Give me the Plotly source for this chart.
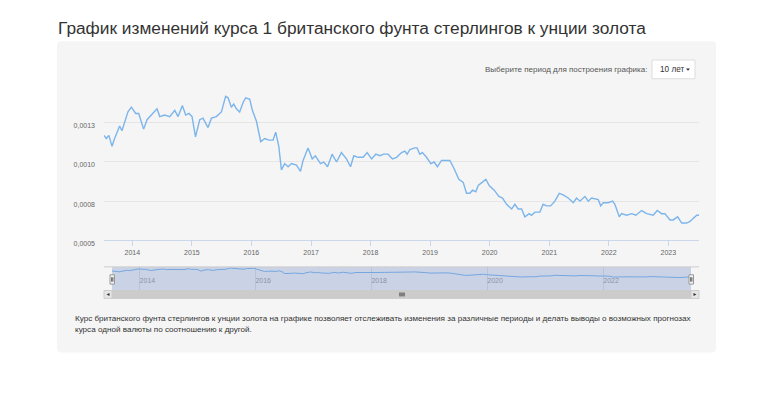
import plotly.graph_objects as go

# ---------------- data ----------------
dates = [
    "2013-07-11", "2013-07-25", "2013-08-10", "2013-08-29", "2013-09-14", "2013-10-15", "2013-10-29",
    "2013-11-25", "2013-12-05", "2013-12-26",
    "2014-01-21", "2014-02-09", "2014-03-11", "2014-04-01", "2014-04-28", "2014-06-01", "2014-06-18",
    "2014-07-18", "2014-08-18", "2014-09-18", "2014-10-08", "2014-11-04", "2014-11-24", "2014-12-14",
    "2015-01-02", "2015-01-23", "2015-02-18", "2015-03-10", "2015-04-10", "2015-05-01", "2015-05-31",
    "2015-07-01", "2015-07-27", "2015-08-11", "2015-08-31", "2015-09-15", "2015-10-01", "2015-10-21",
    "2015-11-11", "2015-11-27", "2015-12-22",
    "2016-01-07", "2016-02-01", "2016-02-27", "2016-03-23", "2016-04-18", "2016-05-13", "2016-05-29",
    "2016-06-17", "2016-07-03", "2016-07-23", "2016-08-13", "2016-09-03", "2016-10-03", "2016-10-28",
    "2016-11-13", "2016-12-13",
    "2017-01-08", "2017-01-27", "2017-02-28", "2017-03-20", "2017-04-12", "2017-05-10", "2017-06-06",
    "2017-07-06", "2017-08-06", "2017-08-31", "2017-09-20", "2017-10-16", "2017-11-16", "2017-12-11",
    "2018-01-07", "2018-02-02", "2018-02-26", "2018-03-23", "2018-04-18", "2018-05-15", "2018-06-09",
    "2018-07-10", "2018-07-30", "2018-08-13", "2018-08-30", "2018-09-29", "2018-10-13", "2018-10-30",
    "2018-11-15", "2018-12-10",
    "2019-01-05", "2019-01-26", "2019-02-15", "2019-03-12", "2019-04-01", "2019-05-02", "2019-05-27",
    "2019-06-26", "2019-07-23", "2019-08-12", "2019-09-02", "2019-09-18", "2019-10-08", "2019-10-23",
    "2019-11-16", "2019-12-09", "2019-12-29",
    "2020-01-29", "2020-02-27", "2020-03-20", "2020-04-14", "2020-05-15", "2020-06-04", "2020-06-24",
    "2020-07-15", "2020-08-04", "2020-08-31", "2020-09-14", "2020-10-05", "2020-11-04", "2020-11-24",
    "2020-12-15",
    "2021-01-09", "2021-02-04", "2021-03-03", "2021-03-27", "2021-04-27", "2021-05-28", "2021-06-17",
    "2021-07-08", "2021-08-07", "2021-08-28", "2021-09-17", "2021-10-28", "2021-11-12", "2021-11-28",
    "2021-12-28",
    "2022-01-24", "2022-02-07", "2022-03-06", "2022-03-20", "2022-04-20", "2022-05-21", "2022-06-16",
    "2022-07-21", "2022-08-21", "2022-09-30", "2022-10-25", "2022-11-21", "2022-12-11",
    "2023-01-11", "2023-01-31", "2023-02-27", "2023-03-24", "2023-04-23", "2023-05-14", "2023-06-03",
    "2023-06-24", "2023-07-08",
]

gbp_per_oz = [
    0.00117, 0.00115, 0.00117, 0.00110, 0.00115, 0.00123, 0.00120, 0.00128, 0.00132, 0.00135,
    0.00131, 0.00131, 0.00121, 0.00127, 0.00130, 0.00134, 0.00129, 0.00130, 0.00129, 0.00133,
    0.00129, 0.00136, 0.00130, 0.00131,
    0.00129, 0.00116, 0.00127, 0.00128, 0.00122, 0.00128, 0.00129, 0.00132, 0.00142, 0.00141,
    0.00135, 0.00137, 0.00134, 0.00132, 0.00138, 0.00141, 0.00140,
    0.00133, 0.00126, 0.00113, 0.00115, 0.00114, 0.00114, 0.00119, 0.00110, 0.00095, 0.00099,
    0.00097, 0.00099, 0.00098, 0.00094, 0.00101, 0.00109,
    0.00102, 0.00104, 0.00099, 0.00100, 0.00097, 0.00105, 0.00100, 0.00106, 0.00102, 0.00097,
    0.00104, 0.00103, 0.00103, 0.00106,
    0.00102, 0.00105, 0.00104, 0.00105, 0.00105, 0.00102, 0.00103, 0.00106, 0.00107, 0.00105,
    0.00108, 0.00109, 0.00109, 0.00105, 0.00106, 0.00103,
    0.00099, 0.00100, 0.00097, 0.00101, 0.00101, 0.00101, 0.00096, 0.00089, 0.00087, 0.00080,
    0.00080, 0.00082, 0.00081, 0.00085, 0.00087, 0.00089, 0.00085,
    0.00082, 0.00078, 0.00077, 0.00073, 0.00070, 0.00073, 0.00070, 0.00070, 0.00065, 0.00067,
    0.00066, 0.00068, 0.00068, 0.00073, 0.00072,
    0.00072, 0.00075, 0.00080, 0.00079, 0.00077, 0.00074, 0.00077, 0.00075, 0.00078, 0.00075,
    0.00077, 0.00076, 0.00072, 0.00074, 0.00074,
    0.00075, 0.00073, 0.00065, 0.00067, 0.00066, 0.00067, 0.00066, 0.00069, 0.00067, 0.00066,
    0.00069, 0.00067, 0.00067,
    0.00063, 0.00063, 0.00065, 0.00061, 0.00061, 0.00062, 0.00064, 0.00066, 0.00066,
]

y_tick_values = [0.0005, 0.00075, 0.0010, 0.00125, 0.0015]
y_tick_labels = ["0,0005", "0,0008", "0,0010", "0,0013", ""]

title_text = "График изменений курса 1 британского фунта стерлингов к унции золота"
period_label = "Выберите период для построения графика:"
period_value = "10 лет"
note_lines = [
    "Курс британского фунта стерлингов к унции золота на графике позволяет отслеживать изменения "
    "за различные периоды и делать выводы о возможных прогнозах",
    "курса одной валюты по соотношению к другой.",
]

# ---------------- layout helpers ----------------
W, H = 758, 395
FONT = "Liberation Sans, Arial, sans-serif"


def px(x):
    return x / W


def py(y):
    return 1 - y / H


def rect(x0, y0, x1, y1, fill, line_color=None, line_width=0, layer="below"):
    return dict(type="rect", xref="paper", yref="paper",
                x0=px(x0), x1=px(x1), y0=py(y1), y1=py(y0),
                fillcolor=fill, layer=layer,
                line=dict(color=line_color or fill, width=line_width))


def seg(x0, y0, x1, y1, color, width=1, layer="above"):
    return dict(type="line", xref="paper", yref="paper",
                x0=px(x0), x1=px(x1), y0=py(y0), y1=py(y1), layer=layer,
                line=dict(color=color, width=width))


def rounded_rect_path(x0, y0, x1, y1, r):
    rx, ry = r / W, r / H
    X0, X1, Y0, Y1 = px(x0), px(x1), py(y1), py(y0)
    return (f"M {X0+rx},{Y0} L {X1-rx},{Y0} Q {X1},{Y0} {X1},{Y0+ry} "
            f"L {X1},{Y1-ry} Q {X1},{Y1} {X1-rx},{Y1} L {X0+rx},{Y1} "
            f"Q {X0},{Y1} {X0},{Y1-ry} L {X0},{Y0+ry} Q {X0},{Y0} {X0+rx},{Y0} Z")


def tri(xs, ys, color):
    pts = [f"{px(x)},{py(y)}" for x, y in zip(xs, ys)]
    return dict(type="path", xref="paper", yref="paper", layer="above",
                path="M " + " L ".join(pts) + " Z", fillcolor=color,
                line=dict(color=color, width=0))


# ---------------- figure ----------------
fig = go.Figure()

fig.add_trace(go.Scatter(
    x=dates, y=gbp_per_oz, mode="lines", xaxis="x", yaxis="y",
    line=dict(color="#7cb5ec", width=1.4), hoverinfo="x+y", showlegend=False,
))
fig.add_trace(go.Scatter(
    x=dates, y=gbp_per_oz, mode="lines", xaxis="x2", yaxis="y2",
    line=dict(color="#7cb5ec", width=1), hoverinfo="skip", showlegend=False,
))

x_range = [dates[0], dates[-1]]

shapes = [
    dict(type="path", xref="paper", yref="paper", layer="below",
         path=rounded_rect_path(57, 42, 716, 358, 4), fillcolor="#f5f5f5",
         line=dict(color="#f5f5f5", width=0)),
    # navigator mask + outline
    rect(112, 271, 691, 295, "rgba(102,133,194,0.3)", layer="above"),
    seg(104, 271, 699, 271, "#cccccc"),
    # scrollbar
    rect(104, 295, 699, 303, "#f2f2f2", layer="above"),
    rect(112, 295, 691, 303, "#cccccc", "#cccccc", 1, layer="above"),
    rect(104, 295, 112, 303, "#e6e6e6", "#cccccc", 1, layer="above"),
    rect(691, 295, 699, 303, "#e6e6e6", "#cccccc", 1, layer="above"),
    tri([109.5, 106.5, 109.5], [297.5, 299, 300.5], "#333333"),
    tri([693.5, 696.5, 693.5], [297.5, 299, 300.5], "#333333"),
    seg(400, 297, 400, 301, "#333333", 1),
    seg(402, 297, 402, 301, "#333333", 1),
    seg(404, 297, 404, 301, "#333333", 1),
    # navigator handles
    rect(110, 279, 114.5, 288.5, "#f2f2f2", "#999999", 1, layer="above"),
    seg(111.7, 281.5, 111.7, 286, "#333333", 0.8),
    seg(112.9, 281.5, 112.9, 286, "#333333", 0.8),
    rect(689, 279, 693.5, 288.5, "#f2f2f2", "#999999", 1, layer="above"),
    seg(690.7, 281.5, 690.7, 286, "#333333", 0.8),
    seg(691.9, 281.5, 691.9, 286, "#333333", 0.8),
    # period selector box
    rect(652, 61, 695, 80, "#ffffff", "#dddddd", 1, layer="above"),
    tri([686, 690, 688], [69.6, 69.6, 71.8], "#333333"),
]

annotations = [
    dict(text=title_text, xref="paper", yref="paper", x=px(56), y=py(28),
         xanchor="left", yanchor="middle", showarrow=False,
         font=dict(family=FONT, size=17.3, color="#333333")),
    dict(text=period_label, xref="paper", yref="paper", x=px(648.5), y=py(70.5),
         xanchor="right", yanchor="middle", showarrow=False,
         font=dict(family=FONT, size=8.0, color="#555555")),
    dict(text=period_value, xref="paper", yref="paper", x=px(657.5), y=py(70.5),
         xanchor="left", yanchor="middle", showarrow=False,
         font=dict(family=FONT, size=8.2, color="#333333")),
    dict(text=note_lines[0], xref="paper", yref="paper", x=px(72.5), y=py(323),
         xanchor="left", yanchor="middle", showarrow=False,
         font=dict(family=FONT, size=8.1, color="#333333")),
    dict(text=note_lines[1], xref="paper", yref="paper", x=px(72.5), y=py(335),
         xanchor="left", yanchor="middle", showarrow=False,
         font=dict(family=FONT, size=8.1, color="#333333")),
]

fig.update_layout(
    width=W, height=H, autosize=False,
    margin=dict(l=0, r=0, t=0, b=0, pad=0),
    paper_bgcolor="#ffffff", plot_bgcolor="#f5f5f5",
    font=dict(family=FONT, size=7, color="#666666"),
    showlegend=False,
    hovermode="x",
    xaxis=dict(
        domain=[px(104), px(699)], anchor="y", type="date", range=x_range,
        showgrid=False, zeroline=False,
        showline=True, linecolor="#ccd6eb", linewidth=1,
        ticks="outside", ticklen=5, tickcolor="#ccd6eb", tickwidth=1,
        tick0="2014-01-01", dtick="M12", tickformat="%Y",
        tickfont=dict(family=FONT, size=7, color="#666666"),
        fixedrange=True,
    ),
    yaxis=dict(
        domain=[py(244), py(85)], anchor="x", range=[0.0005, 0.0015],
        tickmode="array", tickvals=y_tick_values, ticktext=y_tick_labels,
        showgrid=True, gridcolor="#e6e6e6", gridwidth=1, zeroline=False,
        showline=False, ticks="", ticklabelstandoff=8, ticklabelshift=3,
        tickfont=dict(family=FONT, size=7, color="#666666"),
        fixedrange=True,
    ),
    xaxis2=dict(
        domain=[px(112), px(691)], anchor="y2", type="date", range=x_range,
        showgrid=True, gridcolor="#e0e0e0", gridwidth=1, zeroline=False,
        showline=False, ticks="",
        tick0="2014-01-01", dtick="M24", tickformat="%Y",
        ticklabelposition="inside right",
        tickfont=dict(family=FONT, size=7, color="#999999"),
        fixedrange=True,
    ),
    yaxis2=dict(
        domain=[py(295), py(271)], anchor="x2", autorange=True,
        showgrid=False, zeroline=False, showline=False,
        showticklabels=False, ticks="", fixedrange=True,
    ),
    shapes=shapes,
    annotations=annotations,
)

fig.write_html(
    "out.html",
    config={"displayModeBar": False},
    post_script="document.body.style.margin='0';document.body.style.overflow='hidden';",
)
